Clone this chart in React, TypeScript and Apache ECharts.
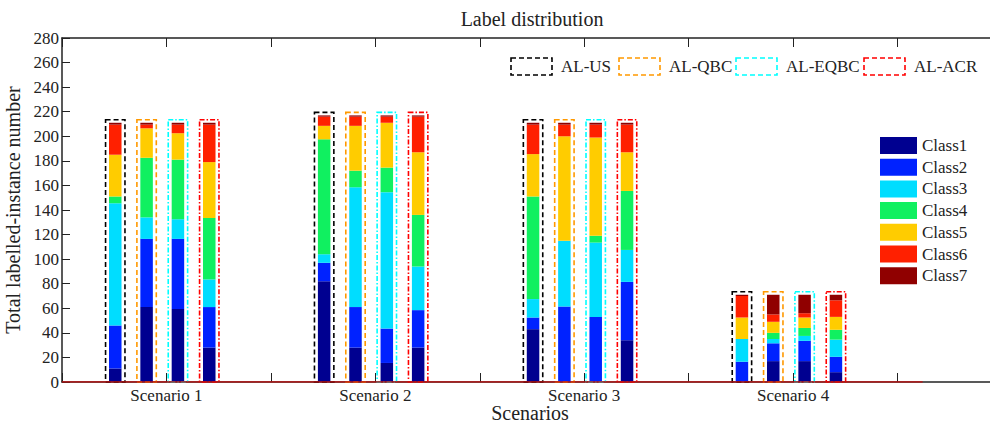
import React, { useEffect, useRef } from "react";
import * as echarts from "echarts";

const scenarios = ["Scenario 1", "Scenario 2", "Scenario 3", "Scenario 4"];
const methods = ["AL-US", "AL-QBC", "AL-EQBC", "AL-ACR"];
const classNames = ["Class1", "Class2", "Class3", "Class4", "Class5", "Class6", "Class7"];
const xAxisTitle = "Scenarios";
const yAxisTitle = "Total labelled-instance number";
const chartTitle = "Label distribution";

// Values ordered: Scenario1 [US, QBC, EQBC, ACR], Scenario2 [...], Scenario3 [...], Scenario4 [...]
const class1 = [11, 61, 59.5, 28, 82, 28, 15.5, 28, 43, 0, 0, 34, 0, 17, 17, 8];
const class2 = [35, 55.5, 57, 33, 15, 33, 28, 30.5, 9.5, 61.5, 53, 47.5, 16.5, 14.5, 16.5, 12.5];
const class3 = [99.5, 17.5, 16, 22.5, 7, 97.5, 111, 35.5, 15, 53.5, 60.5, 26, 18.5, 3.5, 4, 14];
const class4 = [5.5, 48.5, 48.5, 50, 93.5, 13.5, 20, 42, 83.5, 0, 5.5, 48, 0, 5, 6.5, 8];
const class5 = [34, 24, 21.5, 45.5, 11, 36.5, 36.5, 51, 34.5, 85, 80, 31.5, 17.5, 9, 8.5, 10.5];
const class6 = [24.5, 3, 7, 30.5, 7.5, 7.5, 5, 29, 24, 9.5, 10.5, 22.5, 17.5, 6, 3.5, 13.5];
const class7 = [1.5, 1.5, 1.5, 1.5, 1, 1, 1, 1, 1.5, 1.5, 1.5, 1.5, 1, 16, 15, 4.5];
const classValues = [class1, class2, class3, class4, class5, class6, class7];

const yTicks = [0, 20, 40, 60, 80, 100, 120, 140, 160, 180, 200, 220, 240, 260, 280];

// layout / style
const classColors = ["#000090", "#0022ff", "#00ddff", "#10f060", "#ffcc00", "#ff2000", "#900000"];
const methodColors = ["#000000", "#ff9900", "#00ffff", "#ff0000"];
const methodDash = [[5, 3], [5, 3], [5, 2, 1.5, 2], [5, 2, 1.5, 2]];
const methodOffsets = [-0.245, -0.095, 0.055, 0.205];
const boxPad = 2.5;
const BAR_W = 12.5;
const FONT = "'Liberation Serif', 'Times New Roman', serif";
const TXT = "#222222";

function barX(i: number) {
  return Math.floor(i / 4) + 1 + methodOffsets[i % 4];
}

export default function App() {
  const ref = useRef<HTMLDivElement>(null);
  useEffect(() => {
    if (!ref.current) return;
    const chart = echarts.init(ref.current, undefined, { renderer: "svg" });

    const n = class1.length;
    const cum: number[][] = [];
    const running = new Array(n).fill(0);
    classValues.forEach((arr) => {
      const row: number[] = [];
      for (let i = 0; i < n; i++) {
        row.push(running[i]);
        running[i] += arr[i];
      }
      cum.push(row);
    });
    const totals = running.slice();

    const barSeries = classNames.map((name, k) => ({
      name,
      type: "custom",
      xAxisIndex: 0,
      itemStyle: { color: classColors[k] },
      z: 2,
      data: classValues[k].map((v, i) => [barX(i), cum[k][i], cum[k][i] + v]),
      renderItem: (params: any, api: any) => {
        const pTop = api.coord([api.value(0), api.value(2)]);
        const pBot = api.coord([api.value(0), api.value(1)]);
        const h = pBot[1] - pTop[1];
        if (h <= 0) return null;
        return {
          type: "rect",
          shape: { x: pTop[0] - BAR_W / 2, y: pTop[1], width: BAR_W, height: h },
          style: { fill: classColors[k] },
        };
      },
    }));

    const boxSeries = methods.map((name, m) => ({
      name,
      type: "custom",
      xAxisIndex: 0,
      z: 3,
      data: scenarios.map((_, s) => [barX(s * 4 + m), totals[s * 4 + m] + boxPad]),
      renderItem: (params: any, api: any) => {
        const p0 = api.coord([api.value(0), api.value(1)]);
        const p1 = api.coord([api.value(0), 0]);
        return {
          type: "rect",
          shape: { x: p0[0] - 9.7, y: p0[1], width: 19.4, height: p1[1] - p0[1] },
          style: { fill: "none", stroke: methodColors[m], lineWidth: 1.6, lineDash: methodDash[m] },
        };
      },
    }));

    const legendGraphics: any[] = [];
    const iconLefts = [511, 619, 736, 864];
    methods.forEach((name, m) => {
      legendGraphics.push({
        type: "rect",
        shape: { x: iconLefts[m], y: 58, width: 41, height: 17 },
        style: { fill: "none", stroke: methodColors[m], lineWidth: 1.6, lineDash: [5, 3] },
      });
      legendGraphics.push({
        type: "text",
        x: iconLefts[m] + 50,
        y: 66.5,
        style: { text: name, font: `17px ${FONT}`, fill: TXT, verticalAlign: "middle", align: "left" },
      });
    });

    chart.setOption({
      animation: false,
      grid: { left: 62, right: 8, top: 38, bottom: 43, containLabel: false, outerBoundsMode: "none" },
      legend: {
        data: classNames,
        orient: "vertical",
        left: 880,
        top: 137,
        padding: 0,
        itemWidth: 37,
        itemHeight: 17,
        itemGap: 4.7,
        icon: "rect",
        textStyle: { fontSize: 17, fontFamily: FONT, color: TXT },
        selectedMode: false,
      },
      graphic: [
        {
          type: "text",
          x: 532,
          y: 19,
          style: { text: chartTitle, font: `20px ${FONT}`, fill: TXT, align: "center", verticalAlign: "middle" },
        },
        {
          type: "text",
          x: 530,
          y: 413,
          style: { text: xAxisTitle, font: `20px ${FONT}`, fill: TXT, align: "center", verticalAlign: "middle" },
        },
        ...legendGraphics,
      ],
      xAxis: [
        {
          type: "value",
          min: 0.5,
          max: 5,
          interval: 0.5,
          position: "bottom",
          axisLine: { show: true, lineStyle: { color: TXT, width: 1.5 } },
          axisTick: { show: true, inside: true, length: 9, lineStyle: { color: TXT } },
          axisLabel: {
            fontSize: 17,
            fontFamily: FONT,
            color: TXT,
            margin: 5,
            formatter: (v: number) => {
              const r = Math.round(v);
              return Math.abs(v - r) < 1e-6 && r >= 1 && r <= scenarios.length ? scenarios[r - 1] : "";
            },
          },
          splitLine: { show: false },
        },
        {
          type: "value",
          min: 0.5,
          max: 5,
          interval: 0.5,
          position: "top",
          axisLine: { show: true, lineStyle: { color: TXT, width: 1.5 } },
          axisTick: { show: true, inside: true, length: 9, lineStyle: { color: TXT } },
          axisLabel: { show: false },
          splitLine: { show: false },
        },
      ],
      yAxis: {
        type: "value",
        min: yTicks[0],
        max: yTicks[yTicks.length - 1],
        interval: 20,
        name: yAxisTitle,
        nameLocation: "middle",
        nameGap: 35,
        nameRotate: 90,
        nameTextStyle: { fontSize: 20, fontFamily: FONT, color: TXT },
        axisLine: { show: true, lineStyle: { color: TXT, width: 1.5 } },
        axisTick: { show: true, inside: true, length: 8, lineStyle: { color: TXT } },
        axisLabel: { fontSize: 17, fontFamily: FONT, color: TXT, margin: 3 },
        splitLine: { show: false },
      },
      series: [
        ...barSeries,
        ...boxSeries,
        {
          name: "baseline",
          type: "line",
          xAxisIndex: 0,
          data: [[0.5, 0], [4.62, 0]],
          showSymbol: false,
          symbol: "none",
          lineStyle: { color: "#c01010", width: 1.5 },
          z: 4,
          silent: true,
        },
      ],
    });
    return () => chart.dispose();
  }, []);

  return (
    <div style={{ position: "fixed", left: 0, top: 0, width: 990, height: 425, overflow: "hidden", background: "#fff" }}>
      <div ref={ref} style={{ width: 1010, height: 425 }} />
    </div>
  );
}
